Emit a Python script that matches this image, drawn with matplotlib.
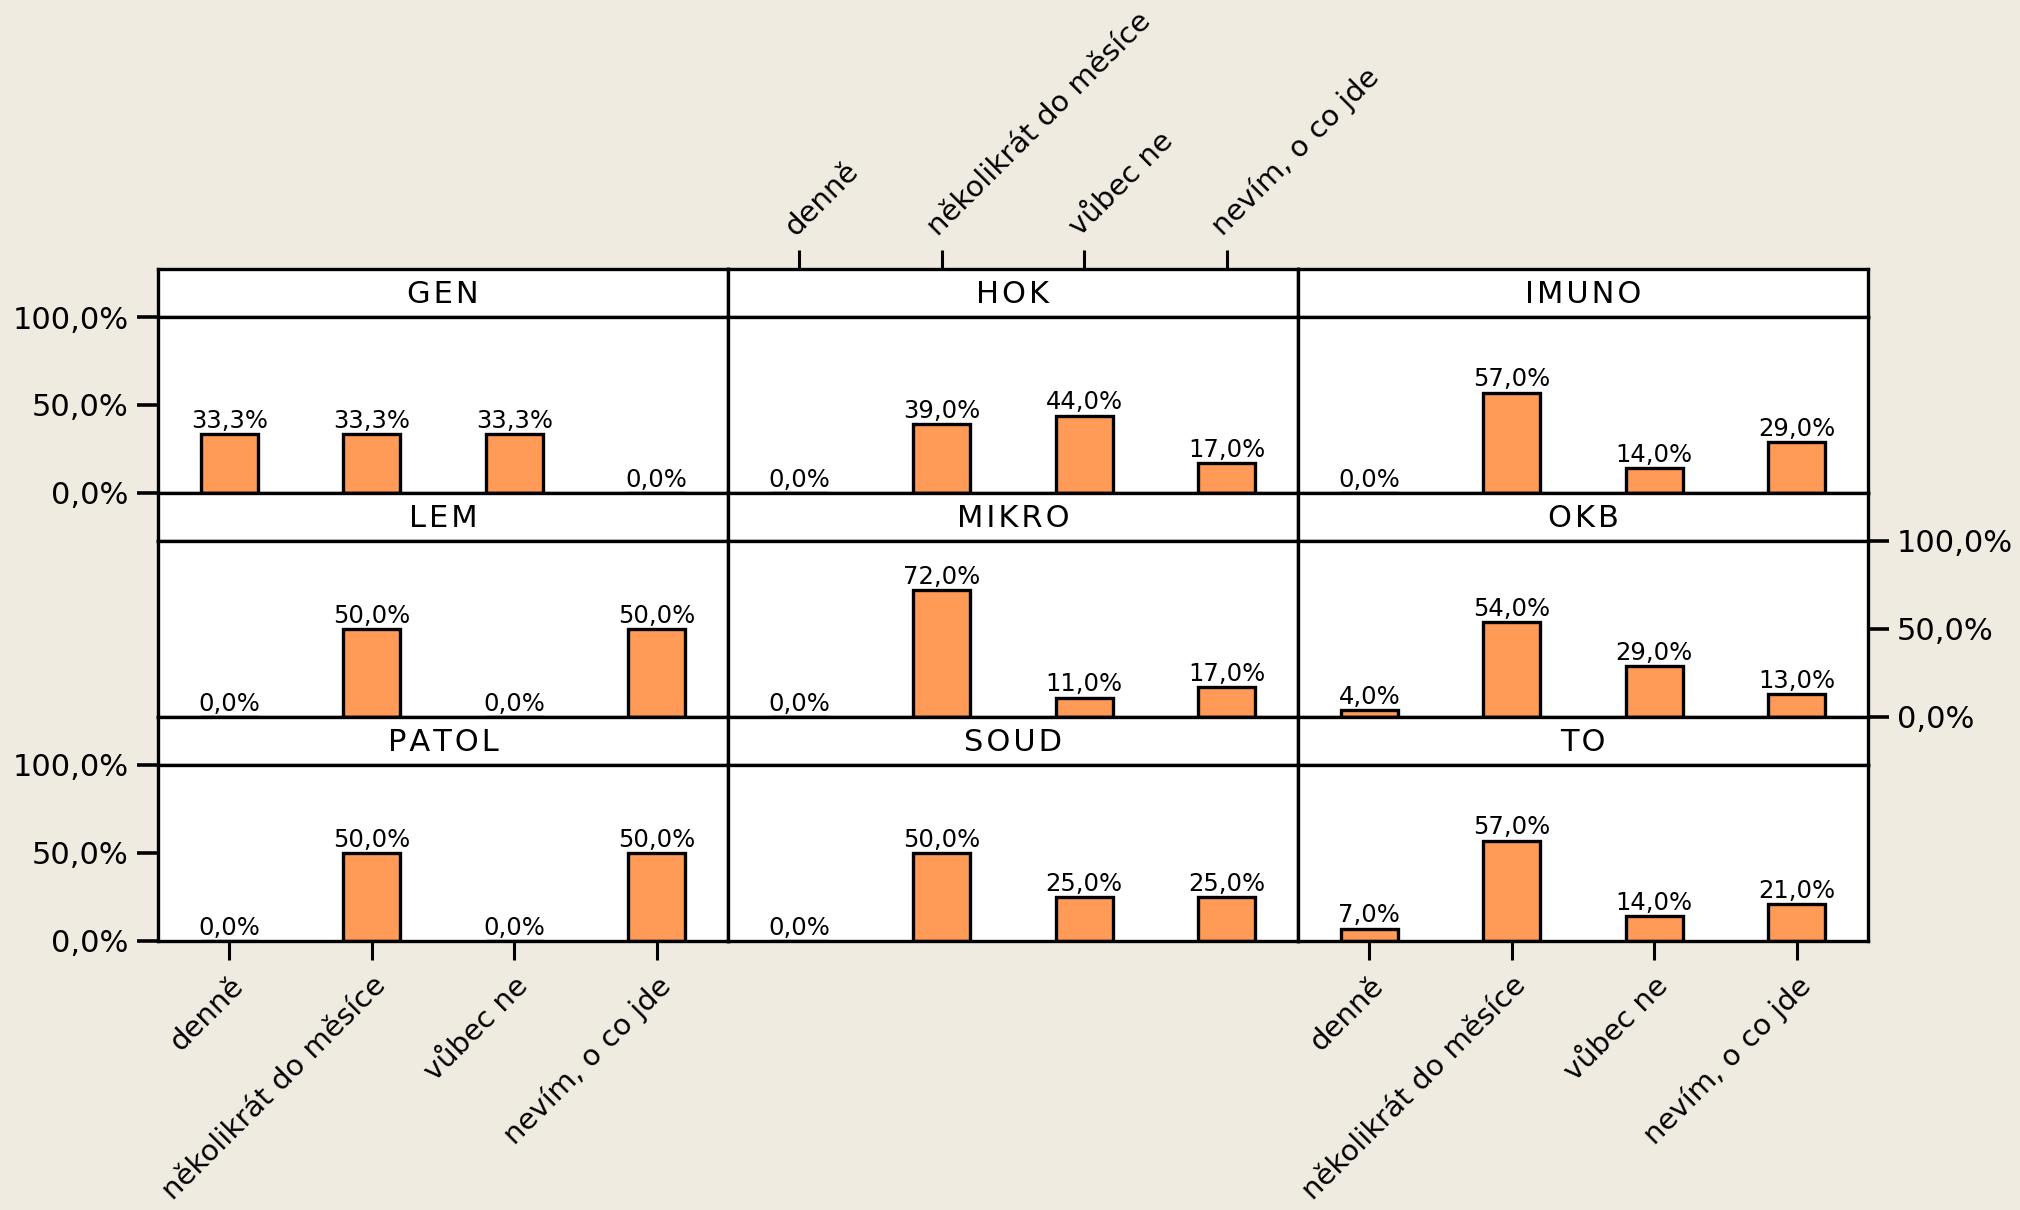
import matplotlib.pyplot as plt

# Data (percent)
departments = ['GEN', 'HOK', 'IMUNO', 'LEM', 'MIKRO', 'OKB', 'PATOL', 'SOUD', 'TO']
categories = ['denně', 'několikrát do měsíce', 'vůbec ne', 'nevím, o co jde']

gen = [33.3, 33.3, 33.3, 0.0]
hok = [0.0, 39.0, 44.0, 17.0]
imuno = [0.0, 57.0, 14.0, 29.0]
lem = [0.0, 50.0, 0.0, 50.0]
mikro = [0.0, 72.0, 11.0, 17.0]
okb = [4.0, 54.0, 29.0, 13.0]
patol = [0.0, 50.0, 0.0, 50.0]
soud = [0.0, 50.0, 25.0, 25.0]
to = [7.0, 57.0, 14.0, 21.0]
values = [gen, hok, imuno, lem, mikro, okb, patol, soud, to]

yticks = [0, 50, 100]
ytick_labels = ['0,0%', '50,0%', '100,0%']

bg = '#EFEBE1'
bar_color = '#FF9A57'

plt.rcParams['font.family'] = 'DejaVu Sans'

W, H = 2020, 1210
fig = plt.figure(figsize=(W / 100, H / 100), dpi=100, facecolor=bg)

# panel grid in pixels
left0, col_w = 158, 570
top0, row_h, head_h = 269, 224, 48


def pct(v):
    return f'{v:.1f}%'.replace('.', ',')


for i, (name, vals) in enumerate(zip(departments, values)):
    r, c = divmod(i, 3)
    x0 = left0 + c * col_w
    top = top0 + r * row_h

    # header strip
    hax = fig.add_axes([x0 / W, 1 - (top + head_h) / H, col_w / W, head_h / H])
    hax.set_facecolor('white')
    hax.set_xlim(-0.5, 3.5)
    hax.set_ylim(0, 1)
    hax.set_yticks([])
    hax.text(1.5, 0.47, '\u200a'.join(name), ha='center', va='center', fontsize=22)
    for s in hax.spines.values():
        s.set_linewidth(2.4)
    if name == 'HOK':
        hax.set_xticks(range(4))
        hax.xaxis.tick_top()
        hax.tick_params(axis='x', length=14, width=2.2, pad=6)
        hax.set_xticklabels(categories, rotation=45, ha='left', va='bottom',
                            rotation_mode='anchor', fontsize=21)
    else:
        hax.set_xticks([])

    # bar panel
    ax = fig.add_axes([x0 / W, 1 - (top + row_h) / H, col_w / W, (row_h - head_h) / H])
    ax.set_facecolor('white')
    ax.bar(range(4), vals, width=0.4, color=bar_color, edgecolor='black', linewidth=2.4)
    for x, v in enumerate(vals):
        ax.annotate(pct(v), (x, v), xytext=(0, 1), textcoords='offset points',
                    ha='center', va='bottom', fontsize=17.5)
    ax.set_xlim(-0.5, 3.5)
    ax.set_ylim(0, 100)
    for s in ax.spines.values():
        s.set_linewidth(2.4)

    ax.set_yticks(yticks)
    ax.set_yticklabels(ytick_labels)
    if c == 0 and r != 1:
        ax.tick_params(axis='y', length=15, width=2.6, labelsize=22, pad=6)
    elif c == 2 and r == 1:
        ax.yaxis.tick_right()
        ax.tick_params(axis='y', length=15, width=2.6, labelsize=22, pad=6)
    else:
        ax.set_yticks([])

    if r == 2 and c != 1:
        ax.set_xticks(range(4))
        ax.tick_params(axis='x', length=14, width=2.2, pad=8)
        ax.set_xticklabels(categories, rotation=45, ha='right', va='top',
                           rotation_mode='anchor', fontsize=21)
    else:
        ax.set_xticks([])

fig.savefig('out.png', dpi=100, facecolor=bg)
